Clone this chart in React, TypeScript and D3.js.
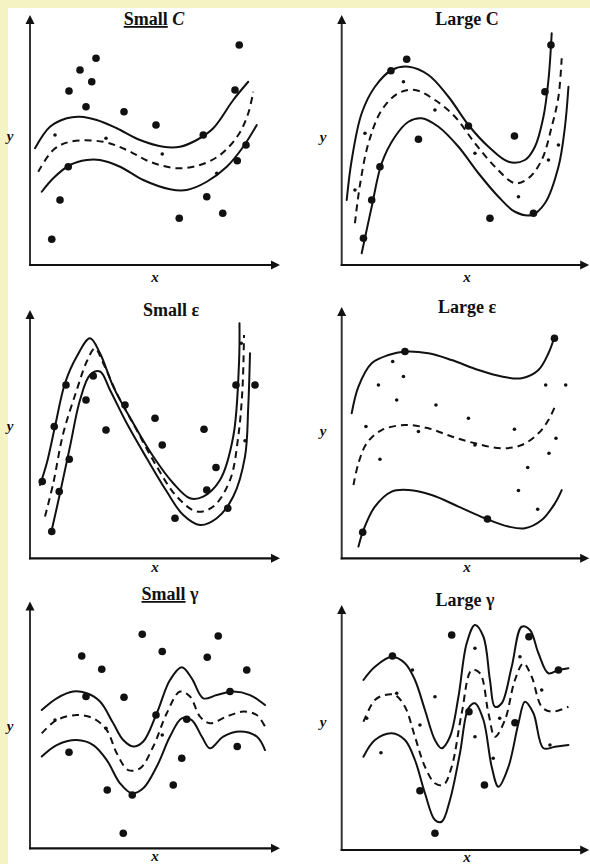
import React, { useEffect } from "react";
import * as d3 from "d3";

type Pt = [number, number];

// ---------- Labels ----------
const titleWords = ["Small", "Large", "Small", "Large", "Small", "Large"];
const titleParams = ["C", "C", "ε", "ε", "γ", "γ"];
const xAxisLabel = "x";
const yAxisLabel = "y";

// ---------- Panel 1: Small C ----------
const smallCUpper: Pt[] = [[2, 46.7], [8, 55.3], [14.7, 58.7], [20, 59.3], [26.7, 58], [34.7, 54.7], [44, 50], [53.3, 47.3], [60, 47.3], [66.7, 50], [73.3, 54.7], [81.3, 66], [87.3, 73.3]];
const smallCMiddle: Pt[] = [[3.3, 37.3], [9.3, 46], [16, 49.3], [29.3, 49.3], [38.7, 46], [48, 41.3], [58.7, 38.7], [68, 40], [76, 44], [83.3, 52], [87.3, 60.7], [89.3, 69.3]];
const smallCLower: Pt[] = [[4.7, 29.3], [9.3, 34.7], [16, 40], [22.7, 42], [28, 42], [36, 39.3], [45.3, 34], [56, 30.3], [62.7, 30], [70.7, 33.3], [78.7, 39.3], [85.3, 47.3], [90.7, 56]];
const smallCSupport: Pt[] = [[26.4, 82.7], [20, 78], [24.7, 73.3], [15.6, 69.6], [22.4, 63.3], [37.6, 61.3], [50.4, 56], [69.3, 52], [83.7, 88], [82, 70], [86.4, 48], [82.9, 41.7], [15.3, 39.3], [12, 26], [8.7, 10.3], [59.7, 18.7], [70.7, 27.3], [77.1, 20.7]];
const smallCOther: Pt[] = [[10, 52], [30.4, 50.7], [52.9, 44.4], [74.7, 36.7]];

// ---------- Panel 2: Large C ----------
const largeCUpper: Pt[] = [[2, 26], [4, 42], [8, 60.7], [13.3, 71.3], [20, 78], [26.7, 79.3], [34.7, 76], [42.7, 67.3], [50.7, 56], [58.7, 47.3], [66.7, 41.3], [73.3, 42], [77.3, 47.3], [80.7, 59.3], [82.7, 74], [84, 92.7]];
const largeCMiddle: Pt[] = [[5.3, 16.7], [7.3, 32], [10.7, 48.7], [16, 62], [22.7, 68.7], [29.3, 70], [37.3, 66], [45.3, 59.3], [53.3, 48.7], [61.3, 39.3], [69.3, 32.7], [74.7, 34.7], [80, 42], [84, 55.3], [86.7, 67.3], [88, 82.7]];
const largeCLower: Pt[] = [[8, 4.7], [12, 23.3], [16, 40.7], [21.3, 51.3], [26.7, 57.3], [32, 58.7], [38.7, 55.3], [46.7, 47.3], [54.7, 36.7], [62.7, 27.3], [69.3, 21.3], [76, 20], [81.3, 24.7], [86.7, 39.3], [89.3, 55.3], [90.7, 71.3]];
const largeCSupport: Pt[] = [[8.7, 10.7], [12, 26], [15.3, 39.3], [19.7, 77.7], [26, 82.3], [30.7, 50.3], [50.7, 55.6], [59.3, 18.7], [69.1, 51.6], [76.7, 20.7], [81.3, 69.3], [83.7, 88]];
const largeCOther: Pt[] = [[24.7, 73.3], [37.3, 62], [53.3, 44.7], [70.7, 27.3], [82.7, 42], [86.7, 48], [9.3, 52.7], [5.3, 30]];

// ---------- Panel 3: Small epsilon ----------
const smallEUpper: Pt[] = [[4, 29.3], [6.7, 38], [10, 52.7], [14, 70], [18.7, 80.7], [24, 88], [28, 82], [33.3, 68.7], [41.3, 54], [49.3, 40.7], [57.3, 30], [64, 24], [69.3, 24.7], [76, 31.3], [81.3, 48.7], [83.6, 78], [83.8, 94]];
const smallEMiddle: Pt[] = [[6, 16.7], [9.3, 30], [13.3, 50], [18.7, 67.3], [22.7, 78.7], [26, 84], [29.3, 78], [34.7, 66], [42.7, 51.3], [50.7, 36.7], [58.7, 24.7], [66.7, 18.7], [73.3, 20.7], [80, 31.3], [83.3, 48.7], [85, 68], [85.6, 89.3]];
const smallELower: Pt[] = [[8.7, 11.3], [12, 26], [16, 44.7], [20, 63.3], [24, 73.3], [28, 74.7], [32, 67.3], [38.7, 54], [46.7, 40], [54.7, 26.7], [61.3, 17.3], [68, 13.3], [74.7, 16], [81.3, 24.7], [86, 40.7], [87.3, 60.7], [88, 82]];
const smallESupport: Pt[] = [[4.9, 30.7], [8.7, 10.7], [9.7, 52.7], [11.7, 26.7], [14.4, 69.3], [15.7, 39.6], [25.3, 72.9], [22.4, 63.3], [30.4, 51.3], [38, 61.3], [50, 56], [52.9, 45.3], [69.6, 51.6], [58, 16], [70.7, 27.3], [74.4, 36.3], [79.1, 20], [82.4, 69.3], [90, 69.3]];
const smallEOther: Pt[] = [[84.5, 86], [86, 47]];

// ---------- Panel 4: Large epsilon ----------
const largeEUpper: Pt[] = [[4, 58], [6.7, 68.7], [12, 78], [18.7, 81.3], [25.3, 82.7], [34.7, 82], [44, 79.3], [54.7, 75.3], [64, 72.7], [72, 72], [78.7, 75.3], [82.7, 82], [84.7, 87.3]];
const largeEMiddle: Pt[] = [[4.7, 29.3], [6.7, 38], [10, 46], [16, 51.3], [25.3, 53.3], [34.7, 52], [44, 48.7], [53.3, 46], [64, 44], [72, 45.3], [78.7, 50], [82.7, 55.3], [85.3, 60.7]];
const largeELower: Pt[] = [[6.7, 4.7], [8.7, 11.3], [13.3, 20.7], [20, 26.7], [26.7, 27.3], [36, 25.3], [46.7, 20.7], [57.3, 16], [66.7, 12.7], [73.3, 12], [80, 15.3], [85.3, 22], [88, 27.3]];
const largeESupport: Pt[] = [[25.3, 82.7], [85.1, 88], [8.4, 10.4], [58.3, 15.7]];
const largeEOther: Pt[] = [[20.4, 78.7], [24.7, 72.7], [14.7, 69.3], [22, 63.3], [37.7, 61.3], [50.7, 56], [9.7, 52.7], [30.7, 50.7], [53.3, 45.3], [15.3, 39.6], [69.1, 51.6], [81.6, 69.3], [89.6, 69.3], [85.7, 48], [82.9, 42], [74.4, 36.3], [70.7, 27.1], [78.4, 19.6]];

// ---------- Panel 5: Small gamma ----------
const smallGUpper: Pt[] = [[4.7, 55.3], [10.7, 60], [17.3, 62.7], [22.7, 62], [28, 58.7], [33.3, 50], [37.3, 43.3], [41.3, 40.7], [45.3, 42.7], [50.7, 54], [56, 67.3], [60.7, 72.4], [64.7, 68], [69.3, 60], [74.7, 61.3], [81.3, 62.7], [88, 61.3], [94, 57.3]];
const smallGMiddle: Pt[] = [[4.7, 46], [10.7, 51.3], [18.7, 53.3], [25.3, 52], [30.7, 47.3], [34.7, 38], [39.3, 31.3], [44, 32], [49.3, 40.7], [54.7, 54], [60, 62.7], [64, 60.7], [68, 52.7], [72, 50], [78.7, 52.7], [85.3, 54.7], [90.7, 53.3], [94, 48.7]];
const smallGLower: Pt[] = [[4.7, 36.7], [10.7, 41.3], [18.7, 43.3], [25.3, 41.3], [30.7, 35.3], [36, 26], [40.7, 22], [45.3, 24], [50.7, 32.7], [56, 44.7], [60.7, 52], [64.7, 51.3], [68.7, 44.7], [72, 40], [77.3, 44.7], [84, 46.7], [90.7, 44.7], [94, 39.3]];
const smallGSupport: Pt[] = [[20.7, 76.9], [28.7, 71.6], [22.4, 60.7], [37.6, 60.4], [44.9, 85.6], [52.9, 78.7], [50.4, 53.3], [70.9, 76.4], [75.3, 84.9], [86.7, 71.3], [80, 62.7], [62.7, 51.6], [82.9, 40.7], [60.7, 36], [15.6, 38.4], [30.9, 23.3], [40.9, 21.3], [57.3, 25.3], [37.3, 6]];
const smallGOther: Pt[] = [[10, 51.3], [30.4, 48], [52.9, 45.3]];

// ---------- Panel 6: Large gamma ----------
const largeGUpper: Pt[] = [[8.7, 68], [13.3, 73.3], [20, 77.3], [25.3, 74.7], [29.3, 68], [33.3, 56], [37.3, 44], [40, 40.7], [43.3, 45.3], [46.7, 61.3], [50, 82.7], [53.3, 90], [56.7, 85.3], [59.3, 68], [61.3, 57.3], [64, 58.7], [68, 73.3], [72, 89.3], [75.3, 88], [78.7, 78.7], [82.7, 70.7], [86.7, 72], [90.7, 72.7]];
const largeGMiddle: Pt[] = [[8.7, 51.3], [13.3, 60], [17.3, 62], [21.3, 62], [25.3, 57.3], [29.3, 45.3], [33.3, 33.3], [37.3, 26.7], [40.7, 26], [44, 33.3], [48, 54.7], [52, 72], [55.3, 70.7], [58.7, 54.7], [61.3, 45.3], [65.3, 52], [69.3, 68], [72.7, 74.7], [76, 69.3], [80, 57.3], [84, 55.3], [90.7, 57.3]];
const largeGLower: Pt[] = [[8.7, 37.3], [13.3, 44], [20, 46.7], [25.3, 44], [29.3, 36], [33.3, 22.7], [37.3, 12], [40, 11.3], [43.3, 20], [47.3, 38.7], [50.7, 56.7], [53.3, 58.7], [56.7, 52], [60, 33.3], [62.7, 25.3], [66.7, 33.3], [70.7, 50.7], [73.3, 59.3], [76.7, 54.7], [80.7, 40.7], [85.3, 41.3], [90.7, 42]];
const largeGSupport: Pt[] = [[20.3, 77.6], [31.3, 23.7], [37.3, 6.7], [50.9, 55.3], [57.1, 26], [69.3, 50.9], [74.9, 85.3], [86.7, 72], [44, 86]];
const largeGOther: Pt[] = [[28.3, 72], [37.3, 61.3], [53.3, 80.7], [71.3, 77.3], [80, 64], [22, 62.7], [10, 52.7], [31.3, 50], [53.3, 45.3], [63.2, 52.7], [60.6, 36.7], [83.3, 42], [15.7, 38.9]];

const panelData = [
  { upper: smallCUpper, middle: smallCMiddle, lower: smallCLower, support: smallCSupport, other: smallCOther },
  { upper: largeCUpper, middle: largeCMiddle, lower: largeCLower, support: largeCSupport, other: largeCOther },
  { upper: smallEUpper, middle: smallEMiddle, lower: smallELower, support: smallESupport, other: smallEOther },
  { upper: largeEUpper, middle: largeEMiddle, lower: largeELower, support: largeESupport, other: largeEOther },
  { upper: smallGUpper, middle: smallGMiddle, lower: smallGLower, support: smallGSupport, other: smallGOther },
  { upper: largeGUpper, middle: largeGMiddle, lower: largeGLower, support: largeGSupport, other: largeGOther },
];

// ---------- Layout (page coordinates) ----------
const layouts = [
  { ox: 30, oy: 265, topU: 100, rightU: 100, titleX: 154, titleY: 25, underline: true, italicParam: true, xLabX: 155, xLabY: 282, yLabX: 10, yLabY: 141 },
  { ox: 341.7, oy: 265, topU: 100, rightU: 99, titleX: 467, titleY: 25, underline: false, italicParam: false, xLabX: 467, xLabY: 282, yLabX: 323, yLabY: 142 },
  { ox: 30, oy: 558.3, topU: 99.3, rightU: 100, titleX: 171, titleY: 316, underline: false, italicParam: false, xLabX: 155, xLabY: 572, yLabX: 10, yLabY: 431 },
  { ox: 341.7, oy: 558.3, topU: 100.5, rightU: 99, titleX: 467, titleY: 313, underline: false, italicParam: false, xLabX: 467, xLabY: 572, yLabX: 323, yLabY: 436 },
  { ox: 30, oy: 848.3, topU: 98.7, rightU: 100, titleX: 170, titleY: 600, underline: true, italicParam: false, xLabX: 155, xLabY: 861, yLabX: 10, yLabY: 731 },
  { ox: 341.7, oy: 850, topU: 98, rightU: 99, titleX: 465, titleY: 606, underline: false, italicParam: false, xLabX: 467, xLabY: 862, yLabX: 323, yLabY: 727 },
];

const W = 590;
const H = 864;
const MARGIN = 8;
const UNIT = 2.5;
const FONT = "'Liberation Serif', 'DejaVu Serif', serif";
const INK = "#111";
const PAGE = "#F5F2C4";

function Panel({ idx }: { idx: number }) {
  const L = layouts[idx];
  const D = panelData[idx];
  const x = d3.scaleLinear().domain([0, 100]).range([L.ox, L.ox + 100 * UNIT]);
  const y = d3.scaleLinear().domain([0, 100]).range([L.oy, L.oy - 100 * UNIT]);
  const line = d3
    .line<Pt>()
    .x((d) => x(d[0]))
    .y((d) => y(d[1]))
    .curve(d3.curveCatmullRom.alpha(0.5));
  const topY = y(L.topU);
  const rightX = x(L.rightU);
  const ah = 9;
  const aw = 4.5;
  return (
    <g>
      <line x1={L.ox} y1={L.oy + 1} x2={L.ox} y2={topY + ah - 1} stroke="#333" strokeWidth={2} />
      <line x1={L.ox - 1} y1={L.oy} x2={rightX - ah + 1} y2={L.oy} stroke={INK} strokeWidth={2.2} />
      <path d={`M${L.ox},${topY} L${L.ox - aw},${topY + ah} L${L.ox + aw},${topY + ah} Z`} fill={INK} />
      <path d={`M${rightX},${L.oy} L${rightX - ah},${L.oy - aw} L${rightX - ah},${L.oy + aw} Z`} fill={INK} />
      <path d={line(D.upper) || ""} fill="none" stroke={INK} strokeWidth={2} strokeLinecap="round" />
      <path d={line(D.lower) || ""} fill="none" stroke={INK} strokeWidth={2} strokeLinecap="round" />
      <path d={line(D.middle) || ""} fill="none" stroke={INK} strokeWidth={2} strokeDasharray="7,5" />
      {D.other.map((p, i) => (
        <circle key={"o" + i} cx={x(p[0])} cy={y(p[1])} r={1.8} fill={INK} />
      ))}
      {D.support.map((p, i) => (
        <circle key={"s" + i} cx={x(p[0])} cy={y(p[1])} r={3.8} fill={INK} />
      ))}
      <text x={L.titleX} y={L.titleY} textAnchor="middle" fontFamily={FONT} fontSize={18} fontWeight="bold" fill={INK}>
        <tspan textDecoration={L.underline ? "underline" : undefined}>{titleWords[idx]}</tspan>
        <tspan fontStyle={L.italicParam ? "italic" : "normal"}>{" " + titleParams[idx]}</tspan>
      </text>
      <text x={L.xLabX} y={L.xLabY} textAnchor="middle" fontFamily={FONT} fontSize={15} fontStyle="italic" fontWeight="bold" fill={INK}>
        {xAxisLabel}
      </text>
      <text x={L.yLabX} y={L.yLabY} textAnchor="middle" fontFamily={FONT} fontSize={15} fontStyle="italic" fontWeight="bold" fill={INK}>
        {yAxisLabel}
      </text>
    </g>
  );
}

export default function App() {
  useEffect(() => {
    document.documentElement.style.overflow = "hidden";
    document.body.style.margin = "0";
    document.body.style.background = "#fff";
  }, []);
  return (
    <svg
      width={W}
      height={H}
      style={{ position: "fixed", left: 0, top: 0, display: "block", background: "#fff" }}
    >
      <rect x={0} y={0} width={W} height={MARGIN} fill={PAGE} />
      <rect x={0} y={0} width={MARGIN} height={H} fill={PAGE} />
      {[0, 1, 2, 3, 4, 5].map((i) => (
        <Panel key={i} idx={i} />
      ))}
    </svg>
  );
}
